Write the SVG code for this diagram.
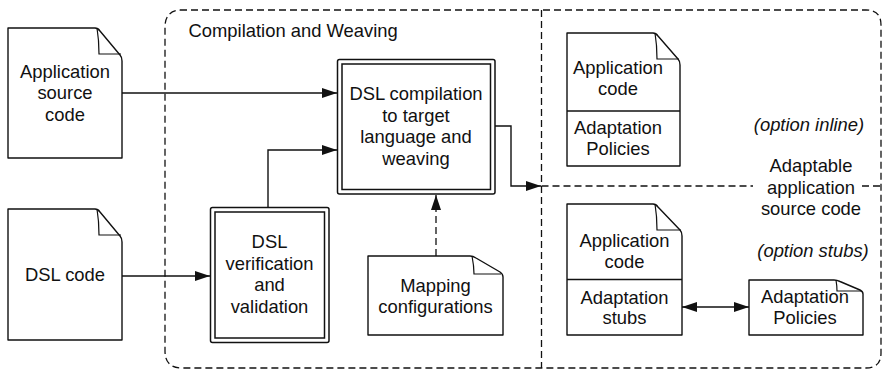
<svg xmlns="http://www.w3.org/2000/svg" width="883" height="370" viewBox="0 0 883 370">
<defs>
<marker id="arr" markerUnits="userSpaceOnUse" markerWidth="16" markerHeight="12" refX="15" refY="5" orient="auto">
<path d="M0,0 L15,5 L0,10 Z" fill="#111" stroke="none"/>
</marker>
<marker id="arrs" markerUnits="userSpaceOnUse" markerWidth="16" markerHeight="12" refX="15" refY="5" orient="auto-start-reverse">
<path d="M0,0 L15,5 L0,10 Z" fill="#111" stroke="none"/>
</marker>
<style>
.t{font-family:"Liberation Sans",Arial,Helvetica,sans-serif;font-size:18.4px;fill:#111;text-anchor:middle}
.i{font-style:italic}
.doc{fill:#fff;stroke:#111;stroke-width:1.4;stroke-linejoin:round}
.fold{fill:none;stroke:#111;stroke-width:1.2}
.box{fill:#fff;stroke:#111;stroke-width:1.5}
.ln{fill:none;stroke:#111;stroke-width:1.4}
.dash{fill:none;stroke:#111;stroke-width:1.3;stroke-dasharray:7,4}
</style>
</defs>
<rect width="883" height="370" fill="#fff"/>

<g id="frame">
<path class="dash" d="M180,10 H866 Q881,10 881,25 V353 Q881,368 866,368 H182 Q165,368 165,351 V27 Q165,10 182,10 Z"/>
<line class="dash" x1="541.5" y1="10" x2="541.5" y2="368"/>
<line class="dash" x1="541.5" y1="186" x2="753" y2="186"/>
<line class="dash" x1="862" y1="186" x2="881" y2="186" stroke-dasharray="1.5,6,9,4"/>
<text class="t" x="188.5" y="36.5" style="text-anchor:start">Compilation and Weaving</text>
</g>

<g id="connectors">
<line class="ln" x1="122" y1="93" x2="337" y2="93" marker-end="url(#arr)"/>
<polyline class="ln" points="268,208 268,150 337,150" marker-end="url(#arr)"/>
<line class="ln" x1="122" y1="276" x2="210" y2="276" marker-end="url(#arr)"/>
<line class="dash" x1="436" y1="256" x2="436" y2="195" marker-end="url(#arr)"/>
<polyline class="ln" points="495,126 511,126 511,186 541,186" marker-end="url(#arr)"/>
<line class="ln" x1="682" y1="307" x2="749" y2="307" marker-start="url(#arrs)" marker-end="url(#arrs)"/>
</g>

<g id="app-source">
<path class="doc" d="M8,28 H95 Q98,28 100,31 L120,55 Q122,57 122,61 V158 H8 Z"/>
<path class="fold" d="M97,28 Q99,40 99,54 H121"/>
<text class="t" x="65" y="77.5">Application</text>
<text class="t" x="65" y="99">source</text>
<text class="t" x="65" y="120.5">code</text>
</g>

<g id="dsl-code">
<path class="doc" d="M8,209 H95 Q98,209 100,212 L120,236 Q122,238 122,242 V340 H8 Z"/>
<path class="fold" d="M97,209 Q99,221 99,235 H121"/>
<text class="t" x="65" y="281">DSL code</text>
</g>

<g id="dsl-verification">
<rect class="box" x="210.5" y="207.5" width="118.5" height="135" rx="2"/>
<rect class="box" x="215" y="212" width="109.5" height="126"/>
<text class="t" x="269.5" y="248.3">DSL</text>
<text class="t" x="269.5" y="269.8">verification</text>
<text class="t" x="269.5" y="291.3">and</text>
<text class="t" x="269.5" y="312.8">validation</text>
</g>

<g id="dsl-compilation">
<rect class="box" x="337.5" y="59.5" width="157.5" height="134.5" rx="2"/>
<rect class="box" x="342" y="64" width="148.5" height="125.5"/>
<text class="t" x="416" y="100">DSL compilation</text>
<text class="t" x="416" y="121.5">to target</text>
<text class="t" x="416" y="143">language and</text>
<text class="t" x="416" y="164.5">weaving</text>
</g>

<g id="mapping">
<path class="doc" d="M368,256 H470 Q473,256 476,258 L500,272 Q503,274 503,277 V335 H368 Z"/>
<path class="fold" d="M472,256 Q474,266 474,274 H501"/>
<text class="t" x="435.5" y="291.5">Mapping</text>
<text class="t" x="435.5" y="313">configurations</text>
</g>

<g id="inline-doc">
<path class="doc" d="M567,33 H653 Q656,33 658,36 L678,59 Q680,61 680,65 V166 H567 Z"/>
<path class="fold" d="M655,33 Q657,45 657,59 H679"/>
<line class="ln" x1="567" y1="111" x2="680" y2="111"/>
<text class="t" x="618" y="74">Application</text>
<text class="t" x="618" y="95">code</text>
<text class="t" x="618" y="133.5">Adaptation</text>
<text class="t" x="618" y="155">Policies</text>
</g>

<g id="stubs-doc">
<path class="doc" d="M567,204 H653 Q656,204 658,207 L680,230 Q682,232 682,236 V335 H567 Z"/>
<path class="fold" d="M655,204 Q657,216 657,230 H681"/>
<line class="ln" x1="567" y1="279.5" x2="682" y2="279.5"/>
<text class="t" x="624.5" y="246.5">Application</text>
<text class="t" x="624.5" y="267.5">code</text>
<text class="t" x="624.5" y="304">Adaptation</text>
<text class="t" x="624.5" y="324">stubs</text>
</g>

<g id="policies-doc">
<path class="doc" d="M749,280 H834 Q837,280 840,281.5 L860,290 Q863,291.5 863,294 V335 H749 Z"/>
<path class="fold" d="M836,280 Q837,286 837,291 H861"/>
<text class="t" x="805" y="303">Adaptation</text>
<text class="t" x="805" y="324">Policies</text>
</g>

<g id="labels">
<text class="t i" x="809" y="130.5">(option inline)</text>
<text class="t" x="811" y="172">Adaptable</text>
<text class="t" x="811" y="193.5">application</text>
<text class="t" x="811" y="215">source code</text>
<text class="t i" x="813" y="257">(option stubs)</text>
</g>
</svg>
